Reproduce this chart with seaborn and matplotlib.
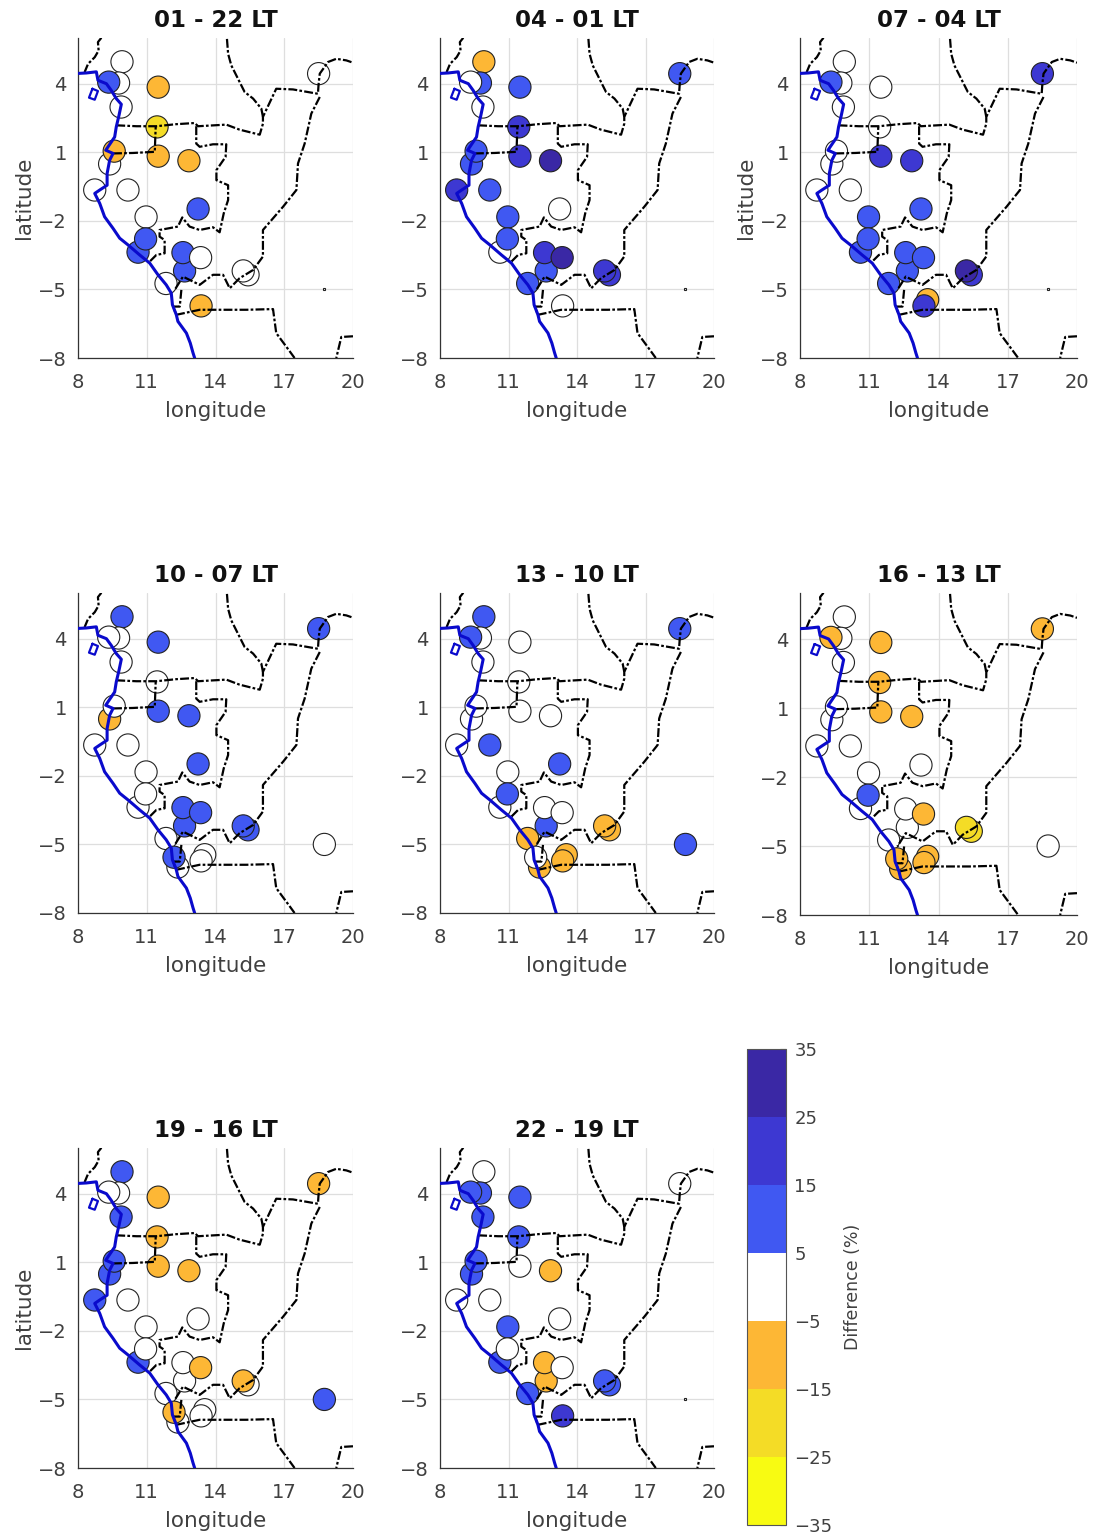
import matplotlib
matplotlib.use("Agg")
import matplotlib.pyplot as plt
from matplotlib.colors import ListedColormap, BoundaryNorm
from matplotlib.cm import ScalarMappable
import numpy as np
import pandas as pd
import seaborn as sns

nan = np.nan

# station positions, listed in drawing order
lon = [9.92, 9.77, 9.34, 9.88, 11.5, 11.45, 9.38, 9.58, 11.5, 12.84, 8.73, 10.18, 13.24, 10.97,
       10.62, 10.95, 12.65, 12.58, 13.35, 15.42, 15.21, 11.84, 12.36, 12.19, 13.53, 13.37, 18.5, 18.75]
lat = [4.96, 4.03, 4.07, 2.98, 3.85, 2.11, 0.49, 1.05, 0.83, 0.63, -0.65, -0.65, -1.48, -1.83,
       -3.37, -2.79, -4.19, -3.39, -3.61, -4.36, -4.19, -4.74, -5.99, -5.56, -5.45, -5.72, 4.44, -5.0]

# difference (%) per station, middle of the class
d01 = [0, 0, 10, 0, -10, -20, 0, -10, -10, -10, 0, 0, 10, 0, 10, 10, 10, 10, 0, 0, 0, 0, nan, nan, nan, -10, 0, nan]
d04 = [-10, 10, 0, 0, 10, 20, 10, 10, 20, 30, 20, 10, 0, 10, 0, 10, 10, 20, 30, 20, 20, 10, nan, nan, nan, 0, 10, nan]
d07 = [0, 0, 10, 0, 0, 0, 0, 0, 20, 20, 0, 0, 10, 10, 10, 10, 10, 10, 10, 20, 30, 10, nan, nan, -10, 20, 20, nan]
d10 = [10, 0, 0, 0, 10, 0, -10, 0, 10, 10, 0, 0, 10, 0, 0, 0, 10, 10, 10, 10, 10, 0, 0, 10, 0, 0, 10, 0]
d13 = [10, 0, 10, 0, 0, 0, 0, 0, 0, 0, 0, 10, 10, 0, 0, 10, 10, 0, 0, -10, -10, -10, -10, 0, -10, -10, 10, 10]
d16 = [0, 0, -10, 0, -10, -10, 0, 0, -10, -10, 0, 0, 0, 0, 0, 10, 0, 0, -10, -20, -20, 0, -10, -10, -10, -10, -10, 0]
d19 = [10, 0, 0, 10, -10, -10, 10, 10, -10, -10, 10, 0, 0, 0, 10, 0, 0, 0, -10, 0, -10, 0, 0, -10, 0, 0, -10, 10]
d22 = [0, 10, 10, 10, 10, 10, 10, 10, 0, -10, 0, 0, 0, 10, 10, 0, -10, -10, 0, 10, 10, 10, nan, nan, nan, 20, 0, nan]

panels = [d01, d04, d07, d10, d13, d16, d19, d22]
titles = ["01 - 22 LT", "04 - 01 LT", "07 - 04 LT", "10 - 07 LT", "13 - 10 LT", "16 - 13 LT", "19 - 16 LT", "22 - 19 LT"]

# coastline
coast_lon = [8.00, 8.36, 8.80, 8.87, 9.24, 9.45, 9.67, 9.89, 9.79, 9.67, 9.60, 9.31, 9.21, 9.53, 9.38, 9.27, 9.27, 8.95,
             8.73, 8.95, 9.16, 9.53, 9.82, 10.18, 10.69, 11.13, 11.49, 11.85, 12.07, 12.12, 12.29, 12.36, 12.73, 12.90, 13.02, 13.09]
coast_lat = [4.45, 4.47, 4.52, 4.15, 4.00, 3.71, 3.35, 3.10, 2.62, 2.11, 1.67, 1.24, 1.09, 0.95, 0.65, 0.07, -0.44, -0.65,
             -0.80, -1.24, -1.82, -2.33, -2.76, -3.05, -3.49, -3.85, -4.36, -4.80, -5.16, -5.67, -6.11, -6.40, -6.91, -7.35, -7.78, -8.00]
island_lon = [8.63, 8.87, 8.73, 8.48, 8.63]
island_lat = [3.78, 3.68, 3.30, 3.39, 3.78]

# country borders
borders = [
    ([9.02, 8.87, 8.90, 8.73, 8.44, 8.29], [6.01, 5.82, 5.45, 5.16, 4.87, 4.51]),
    ([14.50, 14.55, 14.69, 14.98, 15.27, 15.64, 16.00, 16.07], [5.96, 5.31, 4.80, 4.22, 3.64, 3.35, 2.91, 2.55]),
    ([9.67, 10.55, 11.42, 12.29, 13.09, 13.24, 14.47, 15.05, 15.93, 16.07, 16.07, 16.65, 17.38, 18.47, 18.50, 18.55, 18.91, 19.27, 19.71, 20.00],
     [2.18, 2.14, 2.14, 2.23, 2.28, 2.14, 2.21, 1.99, 1.77, 2.25, 2.55, 3.78, 3.75, 3.56, 4.00, 4.44, 4.95, 5.09, 5.02, 4.92]),
    ([9.53, 10.40, 11.35, 11.39], [0.95, 0.97, 1.02, 2.11]),
    ([13.16, 13.16, 13.31, 13.89, 14.47, 14.44, 14.04, 14.04, 14.55, 14.55, 14.36, 14.18, 13.89, 13.31, 12.87, 12.55, 12.36, 11.56, 11.56, 11.78, 11.78, 11.42, 11.13],
     [2.14, 1.38, 1.24, 1.35, 1.35, 0.80, 0.22, -0.22, -0.44, -1.09, -1.67, -2.50, -2.28, -2.40, -2.25, -1.85, -2.25, -2.40, -2.69, -2.84, -3.42, -3.49, -3.78]),
    ([18.55, 18.18, 17.89, 17.60, 17.53, 16.95, 16.07, 16.07, 15.64, 15.05, 14.62, 14.33, 13.89, 13.31, 12.58, 12.22],
     [3.42, 2.69, 1.38, 0.51, -0.65, -1.38, -2.40, -3.56, -4.15, -4.51, -4.95, -4.36, -4.36, -4.80, -4.44, -5.02]),
    ([12.51, 12.44, 12.15, 12.29, 13.31, 15.35, 16.51, 16.65, 17.24, 17.45],
     [-5.02, -5.75, -5.75, -6.11, -5.89, -5.89, -5.86, -6.91, -7.71, -8.00]),
    ([20.00, 19.49, 19.27], [-7.05, -7.08, -8.00]),
]

bar_ticks = [-35, -25, -15, -5, 5, 15, 25, 35]
bar_colors = ["#f8fb12", "#f4dc26", "#fdb735", "#ffffff", "#4058f2", "#3d38d2", "#3a28a5"]
cmap = ListedColormap(bar_colors)
norm = BoundaryNorm(bar_ticks, cmap.N)

sns.set_style("white")
W, H = 1096, 1535
fig = plt.figure(figsize=(W / 100, H / 100), dpi=100)

# left, right, top, bottom of each panel in pixels
boxes = [(78, 353, 38, 358), (440, 714, 38, 358), (800, 1077, 38, 358),
         (78, 353, 593, 913), (440, 714, 593, 913), (800, 1077, 593, 915),
         (78, 353, 1148, 1468), (440, 714, 1148, 1468)]
tick_col = "#404040"

for i, vals in enumerate(panels):
    l, r, t, b = boxes[i]
    ax = fig.add_axes([l / W, 1 - b / H, (r - l) / W, (b - t) / H])
    df = pd.DataFrame({"lon": lon, "lat": lat, "diff": vals}).dropna()
    sns.scatterplot(data=df, x="lon", y="lat", hue="diff", palette=cmap, hue_norm=norm, s=255,
                    edgecolor="#222222", linewidth=0.8, legend=False, ax=ax, zorder=2)
    # stations without data only get a tiny dot
    if np.isnan(vals[-1]):
        ax.plot(lon[-1], lat[-1], "s", ms=1.5, mfc="white", mec="#222222", mew=0.8, zorder=2)
    for bx, by in borders:
        ax.plot(bx, by, color="black", lw=1.6, ls=(0, (4, 1, 1.2, 1)), zorder=3)
    ax.plot(coast_lon, coast_lat, color="#0a0acc", lw=2.2, zorder=4)
    ax.plot(island_lon, island_lat, color="#0a0acc", lw=1.6, zorder=4)

    ax.set_xlim(8, 20)
    ax.set_ylim(-8, 6)
    ax.set_xticks([8, 11, 14, 17, 20])
    ax.set_yticks([-8, -5, -2, 1, 4])
    ax.grid(True, color="#dedede", lw=0.9)
    ax.set_axisbelow(True)
    ax.tick_params(labelsize=14, colors=tick_col, length=0)
    ax.tick_params(axis="x", pad=11)
    ax.tick_params(axis="y", pad=8)
    sns.despine(ax=ax)
    for sp in ["left", "bottom"]:
        ax.spines[sp].set_color("#333333")
        ax.spines[sp].set_linewidth(0.9)
    ax.set_title(titles[i], fontsize=16.5, fontweight="bold", color="#111111", pad=8)
    ax.set_xlabel("longitude", fontsize=15.5, color=tick_col, labelpad=6)
    if i in (0, 2, 6):
        ax.set_ylabel("latitude", fontsize=15.5, color=tick_col, labelpad=3)
    else:
        ax.set_ylabel("")

cax = fig.add_axes([747 / W, 1 - 1525 / H, 39 / W, 476 / H])
cb = fig.colorbar(ScalarMappable(norm=norm, cmap=cmap), cax=cax, ticks=bar_ticks, spacing="proportional")
cb.ax.tick_params(labelsize=13, colors=tick_col, length=4, direction="in", pad=6, color="#333333")
cb.ax.minorticks_off()
cb.outline.set_edgecolor("#555555")
cb.outline.set_linewidth(0.8)
cb.set_label("Difference (%)", fontsize=12.5, color=tick_col, labelpad=8)

fig.savefig("out.png", dpi=100, facecolor="white")
